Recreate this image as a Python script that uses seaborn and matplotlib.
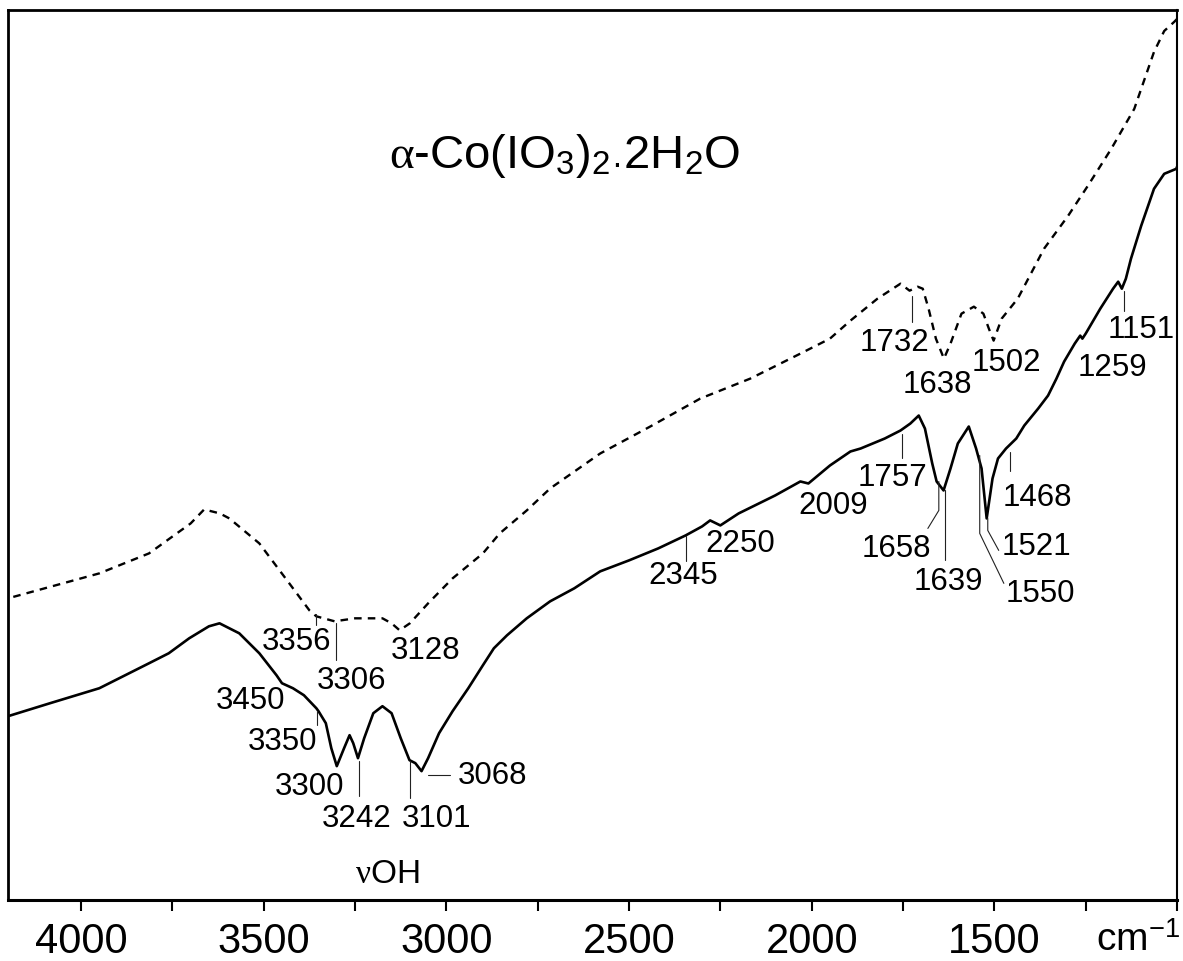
import numpy as np
import pandas as pd
import matplotlib
matplotlib.use("Agg")
import matplotlib.pyplot as plt
import seaborn as sns

# ---------------- data ----------------
# solid spectrum: wavenumber (cm-1) and transmittance (arb. units)
solid_wn = [4200, 4085, 3950, 3814, 3760, 3704, 3650, 3621, 3567, 3512, 3465, 3450,
            3420, 3390, 3356, 3350, 3330, 3315, 3300, 3280, 3265, 3255, 3242, 3225,
            3200, 3175, 3150, 3125, 3101, 3085, 3068, 3050, 3020, 2983, 2940, 2900,
            2870, 2834, 2780, 2716, 2650, 2579, 2500, 2420, 2345, 2300, 2278, 2250,
            2200, 2100, 2031, 2009, 1950, 1894, 1866, 1800, 1757, 1730, 1707, 1690,
            1670, 1658, 1639, 1620, 1600, 1570, 1550, 1535, 1521, 1505, 1490, 1468,
            1440, 1418, 1380, 1353, 1330, 1309, 1280, 1265, 1259, 1250, 1210, 1175,
            1161, 1151, 1140, 1126, 1098, 1063, 1035, 1002, 1000]
solid_T = [18.4, 19.7, 21.2, 23.7, 24.7, 26.2, 27.4, 27.7, 26.7, 24.7, 22.5, 21.7,
           21.2, 20.5, 19.2, 18.9, 17.7, 15.2, 13.4, 15.2, 16.5, 15.7, 14.2, 16.2,
           18.7, 19.4, 18.7, 16.2, 14.0, 13.7, 12.9, 14.2, 16.7, 18.9, 21.2, 23.5,
           25.2, 26.5, 28.2, 29.9, 31.2, 32.9, 34.0, 35.2, 36.5, 37.4, 38.0, 37.5,
           38.7, 40.5, 41.9, 41.7, 43.5, 44.9, 45.2, 46.2, 47.0, 47.7, 48.5, 47.2,
           43.7, 41.9, 41.0, 43.2, 45.7, 47.4, 45.2, 43.2, 38.2, 42.2, 44.2, 45.2,
           46.2, 47.5, 49.2, 50.5, 52.2, 53.9, 55.7, 56.5, 56.2, 56.7, 59.2, 61.2,
           61.9, 61.2, 62.2, 64.2, 67.5, 71.2, 72.7, 73.2, 73.4]

# dashed spectrum
dash_wn = [4200, 4100, 4000, 3950, 3814, 3700, 3663, 3620, 3594, 3512, 3430, 3375,
           3356, 3306, 3250, 3175, 3150, 3128, 3100, 3050, 2983, 2900, 2854, 2780,
           2716, 2579, 2442, 2305, 2168, 2031, 1950, 1894, 1820, 1757, 1732, 1710,
           1696, 1680, 1660, 1638, 1620, 1590, 1556, 1530, 1515, 1502, 1480, 1436,
           1364, 1298, 1244, 1180, 1117, 1063, 1035, 1008, 1000]
dash_T = [30.2, 31.2, 32.2, 32.7, 34.7, 37.7, 39.1, 38.7, 38.2, 35.7, 31.7, 29.0,
          28.4, 27.9, 28.2, 28.2, 27.7, 27.0, 27.7, 29.7, 32.2, 34.7, 36.7, 39.0,
          41.2, 44.7, 47.4, 50.2, 52.2, 54.7, 56.2, 58.0, 60.2, 61.7, 61.0, 61.4,
          61.2, 59.2, 56.2, 54.2, 55.7, 58.7, 59.4, 58.7, 57.2, 56.0, 58.2, 60.2,
          65.2, 68.5, 71.5, 75.2, 79.2, 84.9, 87.0, 87.9, 88.2]

# tick labels
major_ticks = [4000, 3500, 3000, 2500, 2000, 1500]
minor_ticks = [3750, 3250, 2750, 2250, 1750, 1250, 1000]

# peak annotations: label text and anchor (wavenumber, T) of the text
peak_labels = ["3356", "3306", "3128", "3450", "3350", "3300", "3242", "3101",
               "3068", "2345", "2250", "2009", "1757", "1732", "1638", "1502",
               "1259", "1151", "1658", "1639", "1468", "1521", "1550"]
label_wn = [3410, 3259, 3056, 3536, 3449, 3375, 3246, 3026,
            2873, 2352, 2195, 1940, 1778, 1773, 1655, 1468,
            1178, 1098, 1767, 1625, 1383, 1386, 1375]
label_T = [25.9, 22.0, 25.0, 20.0, 15.9, 11.4, 8.2, 8.2,
           12.5, 32.5, 35.7, 39.5, 42.3, 55.9, 51.7, 53.9,
           53.4, 57.2, 35.2, 31.9, 40.3, 35.4, 30.7]

# leader lines (wavenumber lists, T lists)
leader_wn = [[3358, 3358], [3303, 3303], [3353, 3353], [3238, 3238], [3100, 3100],
             [3051, 2991], [2343, 2343], [1754, 1754], [1726, 1726], [1145, 1145],
             [1652, 1652, 1682], [1636, 1636], [1457, 1457], [1518, 1518, 1488],
             [1540, 1540, 1474]]
leader_T = [[28.6, 27.5], [27.7, 24.0], [18.9, 17.5], [13.9, 10.4], [13.9, 10.2],
            [12.5, 12.5], [36.4, 33.9], [46.7, 44.2], [60.5, 57.9], [61.0, 59.0],
            [41.9, 39.0, 37.2], [41.0, 34.0], [44.9, 42.9], [38.2, 37.0, 35.0],
            [44.5, 36.7, 31.7]]

title_text = r'$\alpha$-Co(IO$_3$)$_2$$_{·}$2H$_2$O'
band_text = r'$\nu$OH'
unit_text = r'cm$^{\mathrm{-1}}$'

# ---------------- style ----------------
sns.set_theme(style="white")
plt.rcParams['font.family'] = ['Liberation Sans', 'DejaVu Sans']
plt.rcParams['mathtext.fontset'] = 'custom'
plt.rcParams['mathtext.rm'] = 'Liberation Sans'
plt.rcParams['mathtext.it'] = 'Liberation Serif'
plt.rcParams['mathtext.bf'] = 'Liberation Sans:bold'

fig = plt.figure(figsize=(11.83, 9.62), dpi=100)
ax = fig.add_axes([8 / 1183, 1 - 901 / 962, 1169 / 1183, 890 / 962])

df_solid = pd.DataFrame({"wn": solid_wn, "T": solid_T})
df_dash = pd.DataFrame({"wn": dash_wn, "T": dash_T})

sns.lineplot(data=df_solid, x="wn", y="T", ax=ax, color="black", linewidth=1.9,
             estimator=None)
sns.lineplot(data=df_dash, x="wn", y="T", ax=ax, color="black", linewidth=1.7,
             estimator=None, linestyle=(0, (3.2, 2.6)))

for xs, ys in zip(leader_wn, leader_T):
    ax.plot(xs, ys, color="#222222", linewidth=0.8)

for lab, x, y in zip(peak_labels, label_wn, label_T):
    ax.text(x, y, lab, fontsize=22.5, ha="center", va="center", color="black")

ax.text(0.476, 0.837, title_text, transform=ax.transAxes, fontsize=34,
        ha="center", va="center", color="black")
ax.text(3163, 2.7, band_text, fontsize=24, ha="center", va="center", color="black")

ax.set_xlim(4200, 1000)
ax.set_ylim(0, 89.1)
ax.set_xticks(major_ticks)
ax.set_xticklabels([str(t) for t in major_ticks])
ax.set_xticks(minor_ticks, minor=True)
ax.set_yticks([])
ax.set_xlabel("")
ax.set_ylabel("")

ax.tick_params(axis="x", which="both", direction="out", length=8, width=1.5,
               color="black", bottom=True, top=False)
ax.tick_params(axis="x", which="major", labelsize=30, pad=7, labelcolor="black")

for side in ["left", "right", "top", "bottom"]:
    ax.spines[side].set_visible(True)
    ax.spines[side].set_color("black")
ax.spines["bottom"].set_linewidth(2.2)
ax.spines["left"].set_linewidth(2.0)
ax.spines["top"].set_linewidth(2.0)
ax.spines["right"].set_linewidth(1.5)

fig.text(1138 / 1183, 1 - 941 / 962, unit_text, fontsize=28, ha="center",
         va="center", color="black")

fig.savefig("out.png", dpi=100, facecolor="white")
